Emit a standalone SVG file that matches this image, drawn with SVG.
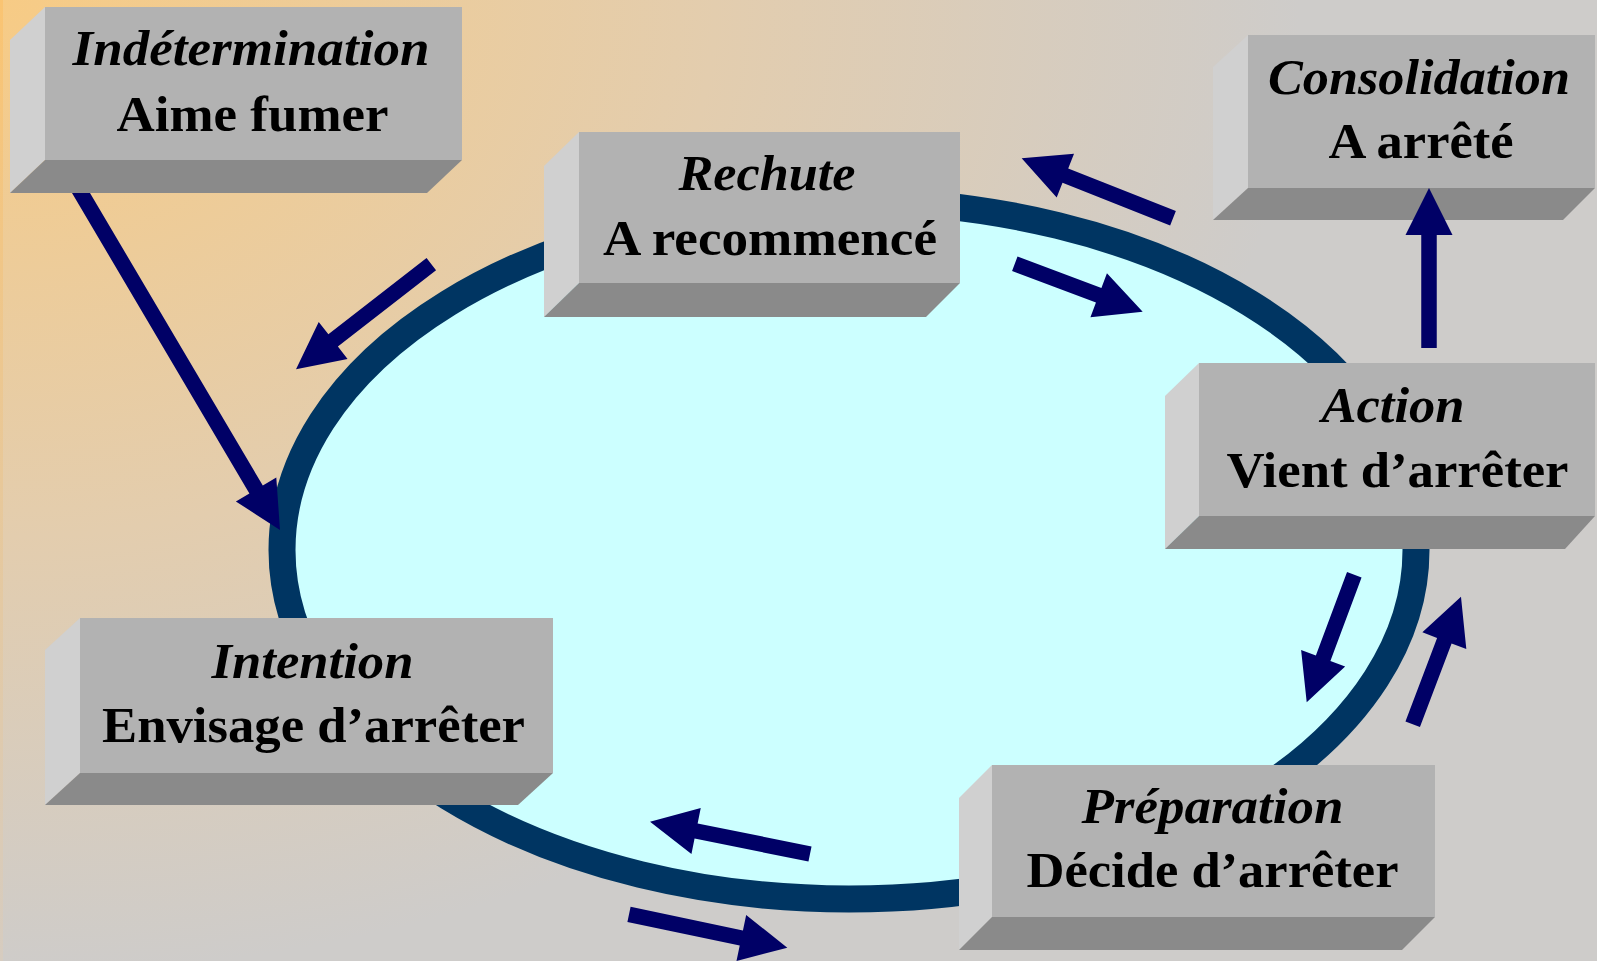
<svg xmlns="http://www.w3.org/2000/svg" width="1597" height="961" viewBox="0 0 1597 961">
<style>
.front{fill:#B2B2B2}
.side{fill:#D0D0D0}
.bottom{fill:#8A8A8A}
.t{font-family:"Liberation Serif","Times New Roman",serif;font-weight:bold;font-size:50px;fill:#000;text-anchor:middle}
.i{font-style:italic}
.arrow{fill:#000066}
</style>
<defs>
<radialGradient id="bg" gradientUnits="userSpaceOnUse" cx="0" cy="0" r="1300" gradientTransform="scale(1,0.75)">
<stop offset="0" stop-color="#F7CB85"/>
<stop offset="0.55" stop-color="#E3CDAE"/>
<stop offset="1" stop-color="#CECCCA"/>
</radialGradient>
<linearGradient id="edge" x1="0" y1="0" x2="0" y2="1">
<stop offset="0" stop-color="#FAC472"/>
<stop offset="1" stop-color="#D6CCC0"/>
</linearGradient>
</defs>
<rect x="0" y="0" width="1597" height="961" fill="url(#bg)"/>
<rect x="0" y="0" width="3" height="961" fill="url(#edge)"/>

<g id="cycle">
<ellipse cx="849" cy="550" rx="567" ry="349" fill="#CCFFFF" stroke="#003562" stroke-width="27"/>
</g>

<g id="node-indetermination">
<polygon class="side" points="45,7 10,40 10,193 45,160"/>
<polygon class="bottom" points="45,160 462,160 427,193 10,193"/>
<rect class="front" x="45" y="7" width="417" height="153"/>
<text class="t i" x="251" y="65" textLength="357" lengthAdjust="spacingAndGlyphs">Indétermination</text>
<text class="t" x="252.5" y="131" textLength="272" lengthAdjust="spacingAndGlyphs">Aime fumer</text>
</g>

<g id="node-rechute">
<polygon class="side" points="579,132 544,166 544,317 579,283"/>
<polygon class="bottom" points="579,283 960,283 926,317 544,317"/>
<rect class="front" x="579" y="132" width="381" height="151"/>
<text class="t i" x="767" y="190" textLength="177" lengthAdjust="spacingAndGlyphs">Rechute</text>
<text class="t" x="770" y="255" textLength="334" lengthAdjust="spacingAndGlyphs">A recommencé</text>
</g>

<g id="node-consolidation">
<polygon class="side" points="1248,35 1213,67 1213,220 1248,188"/>
<polygon class="bottom" points="1248,188 1595,188 1563,220 1213,220"/>
<rect class="front" x="1248" y="35" width="347" height="153"/>
<text class="t i" x="1419" y="94" textLength="302" lengthAdjust="spacingAndGlyphs">Consolidation</text>
<text class="t" x="1421" y="158" textLength="185" lengthAdjust="spacingAndGlyphs">A arrêté</text>
</g>

<g id="node-action">
<polygon class="side" points="1199,363 1165,396 1165,549 1199,516"/>
<polygon class="bottom" points="1199,516 1595,516 1565,549 1165,549"/>
<rect class="front" x="1199" y="363" width="396" height="153"/>
<text class="t i" x="1393" y="422" textLength="143" lengthAdjust="spacingAndGlyphs">Action</text>
<text class="t" x="1397.5" y="487" textLength="342" lengthAdjust="spacingAndGlyphs">Vient d’arrêter</text>
</g>

<g id="node-preparation">
<polygon class="side" points="992,765 959,798 959,950 992,917"/>
<polygon class="bottom" points="992,917 1435,917 1402,950 959,950"/>
<rect class="front" x="992" y="765" width="443" height="152"/>
<text class="t i" x="1212.5" y="823" textLength="262" lengthAdjust="spacingAndGlyphs">Préparation</text>
<text class="t" x="1212.5" y="887" textLength="372" lengthAdjust="spacingAndGlyphs">Décide d’arrêter</text>
</g>

<g id="node-intention">
<polygon class="side" points="80,618 45,650 45,805 80,773"/>
<polygon class="bottom" points="80,773 553,773 518,805 45,805"/>
<rect class="front" x="80" y="618" width="473" height="155"/>
<text class="t i" x="312.5" y="678" textLength="202" lengthAdjust="spacingAndGlyphs">Intention</text>
<text class="t" x="313.5" y="742" textLength="423" lengthAdjust="spacingAndGlyphs">Envisage d’arrêter</text>
</g>

<g id="connectors">
<polygon class="arrow" points="72,193 249.4,493.4 235.9,501.4 280,530 276.3,477.6 262.8,485.6 90,193"/>
<polygon class="arrow" transform="translate(431.3,264.2) rotate(142.16)" points="0,-7.75 124.3,-7.75 124.3,-23.5 171.3,0 124.3,23.5 124.3,7.75 0,7.75"/>
<polygon class="arrow" transform="translate(1173,218.3) rotate(-158.37)" points="0,-7.75 115.8,-7.75 115.8,-23.5 162.8,0 115.8,23.5 115.8,7.75 0,7.75"/>
<polygon class="arrow" transform="translate(1014.8,263.7) rotate(20.57)" points="0,-7.75 89.6,-7.75 89.6,-23.5 136.6,0 89.6,23.5 89.6,7.75 0,7.75"/>
<polygon class="arrow" transform="translate(1429,348) rotate(-90)" points="0,-7.75 113,-7.75 113,-23.5 160,0 113,23.5 113,7.75 0,7.75"/>
<polygon class="arrow" transform="translate(1354.3,574.7) rotate(110.45)" points="0,-7.75 89.2,-7.75 89.2,-23.5 136.2,0 89.2,23.5 89.2,7.75 0,7.75"/>
<polygon class="arrow" transform="translate(1412.7,724.3) rotate(-69.27)" points="0,-7.75 89.4,-7.75 89.4,-23.5 136.4,0 89.4,23.5 89.4,7.75 0,7.75"/>
<polygon class="arrow" transform="translate(810,854) rotate(-168.59)" points="0,-7.75 116.2,-7.75 116.2,-23.5 163.2,0 116.2,23.5 116.2,7.75 0,7.75"/>
<polygon class="arrow" transform="translate(629,914.3) rotate(11.91)" points="0,-7.75 114.8,-7.75 114.8,-23.5 161.8,0 114.8,23.5 114.8,7.75 0,7.75"/>
</g>
</svg>
